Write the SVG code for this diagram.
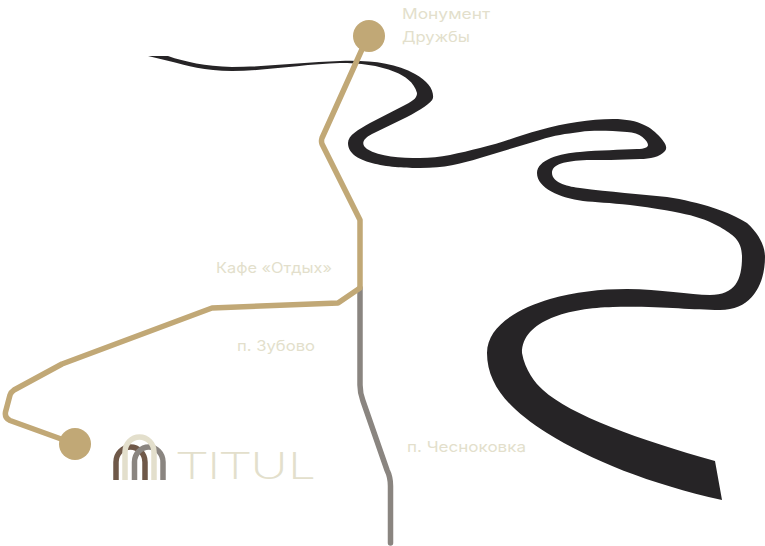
<svg xmlns="http://www.w3.org/2000/svg" width="765" height="546" viewBox="0 0 765 546">
<style>
.t{font-family:"Inter","Noto Sans",sans-serif;font-size:14.5px;fill:#e3dfcc}
.g{fill:none;stroke:#c1a876;stroke-width:5.5;stroke-linejoin:round;stroke-linecap:round}
.a{fill:none;stroke-width:5.5}
</style>
<rect width="765" height="546" fill="#fff"/>
<path id="river" fill="#262426" d="M148 56L168 56C185 62 205 66 232 67C265 67 305 62 340 61C370 60 395 63 415 74C428 81 434 90 433 98C432 103 420 110 407 117L372 134C362 139 361 145 367 149C380 157 400 158 420 158C440 158 460 153 480 148C505 142 520 135 540 130C565 123 590 119 613 119C640 119 652 128 660 137C665 143 668 147 665 151C660 157 650 159 640 159C620 160 600 160 587 160C565 161 552 164 552 173C552 183 570 187 580 188C610 192 640 194 667 197C700 202 730 212 747 223C760 235 765 247 765 257C765 280 755 310 720 310C690 310 660 306 613 307C570 308 522 320 522 353C525 370 535 383 543 390C570 415 640 440 715 461L722 500C650 484 590 460 547 433C510 410 487 385 487 353C487 325 520 308 550 299C575 292 600 289 627 289C660 289 690 295 710 295C735 295 742 280 742 257C742 240 733 235 720 227C705 219 695 216 680 213C660 209 645 207 630 205C610 203 595 202 583 201C560 198 537 188 537 173C537 160 560 153 580 152C600 150 620 150 637 149C645 149 648 147 648 145C648 141 640 132 627 132C610 131 595 130 580 132C565 134 555 135 540 140L480 158C460 164 445 168 420 168C395 168 348 165 348 143C348 135 358 130 370 123L405 105C415 100 417 97 417 93C414 82 405 76 395 72C378 65 360 63 340 63C305 64 265 71 232 71C205 71 185 65 173 62Z"/>
<g id="connectors">
<path d="M360 288V385Q360 393 363 401L387 470Q390.500 477 390.500 486V543" fill="none" stroke="#8a8580" stroke-width="5.5" stroke-linejoin="round" stroke-linecap="round"/>
<path class="g" d="M368 36L322 138Q321 141 322 144L360 220V288L338 303L212 308L62 364L14 390Q11 392 10 395L5.500 412Q4.500 418 10 420.500L75 444"/>
</g>
<g id="node-monument"><circle cx="369" cy="36" r="16" fill="#c1a876"/><text class="t" x="402" y="19" textLength="88" lengthAdjust="spacingAndGlyphs">Монумент</text><text class="t" x="402" y="42" textLength="68" lengthAdjust="spacingAndGlyphs">Дружбы</text></g>
<g id="node-start"><circle cx="75" cy="444" r="16" fill="#c1a876"/></g>
<g id="label-cafe"><text class="t" x="216" y="273" textLength="116" lengthAdjust="spacingAndGlyphs">Кафе «Отдых»</text></g>
<g id="label-zubovo"><text class="t" x="237" y="351" textLength="78" lengthAdjust="spacingAndGlyphs">п. Зубово</text></g>
<g id="label-chesnokovka"><text class="t" x="407" y="452" textLength="119" lengthAdjust="spacingAndGlyphs">п. Чесноковка</text></g>
<g id="logo">
<path class="a" stroke="#6f5848" d="M116 480V462A14.5 15 0 0 1 145 462V480"/>
<path class="a" stroke="#8a8580" d="M134.500 480V462A14.250 15 0 0 1 163 462V480"/>
<path class="a" stroke="#e3dfcc" d="M125 480V452A14.500 15 0 0 1 154 452V480"/>
<text x="177" y="479" font-family="Lato,sans-serif" font-weight="300" font-size="37.500" fill="#e3dfcc" textLength="137" lengthAdjust="spacingAndGlyphs">TITUL</text>
</g>
</svg>
